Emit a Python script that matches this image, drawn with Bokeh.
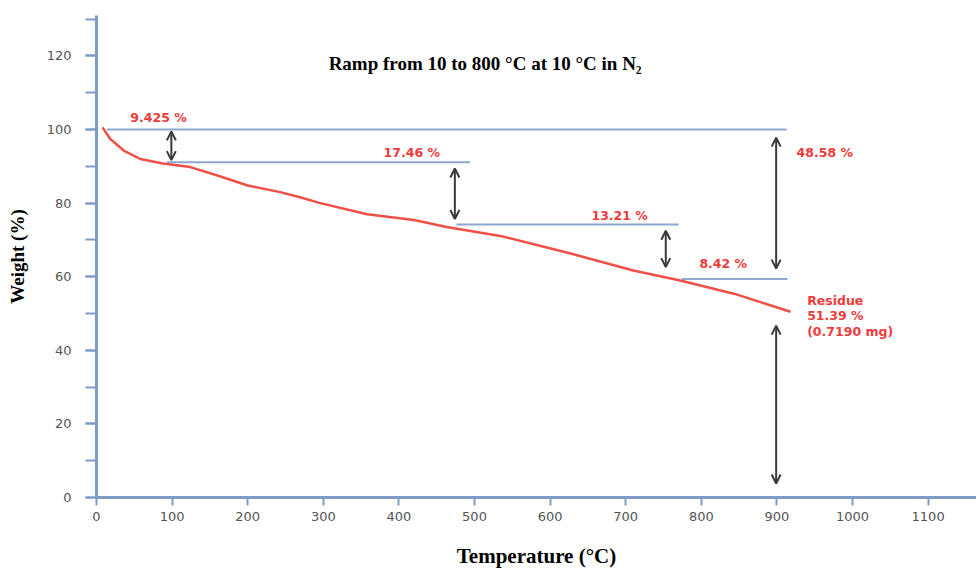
from bokeh.plotting import figure
from bokeh.models import (ColumnDataSource, Arrow, OpenHead, Label, Range1d,
                          SingleIntervalTicker)
from bokeh.embed import file_html
from bokeh.resources import INLINE
from bokeh.core.properties import value

# ---- data ----
temperature = [8, 18, 36, 58, 88, 124, 160, 200, 243, 269, 296, 358, 420, 463,
               534, 622, 710, 772, 843, 918]
weight = [100.6, 97.5, 94.3, 92.0, 90.8, 89.8, 87.5, 84.8, 83.0, 81.6, 80.0,
          77.0, 75.4, 73.5, 71.1, 66.6, 61.7, 59.0, 55.4, 50.5]

step_levels = [100, 91.1, 74.2, 59.4]
step_starts = [14, 93, 476, 774]
step_ends = [913, 494, 770, 914]

arrow_x = [99, 474, 753, 899, 899]
arrow_from = [99.5, 89.4, 72.5, 97.8, 46.7]
arrow_to = [91.7, 75.7, 62.6, 62.2, 3.8]

label_texts = ["9.425 %", "17.46 %", "13.21 %", "8.42 %", "48.58 %",
               "Residue", "51.39 %", "(0.7190 mg)"]
label_x = [82, 417, 692, 829, 926, 940, 940, 940]
label_y = [103.4, 93.8, 76.6, 63.5, 93.7, 53.5, 49.5, 45.2]
label_align = ["center", "center", "center", "center", "left", "left", "left", "left"]

title_text = "Ramp from 10 to 800 \u00b0C at 10 \u00b0C in N\u2082"
x_title = "Temperature (\u00b0C)"
y_title = "Weight (%)"

AXIS_BLUE = "#7e9bc8"
LINE_BLUE = "#8ea8d0"
RED = "#ee3b3b"

p = figure(width=976, height=570, x_range=Range1d(0, 1164), y_range=Range1d(0, 131),
           output_backend="svg", toolbar_location=None,
           min_border_left=96, min_border_top=15, min_border_right=0, min_border_bottom=73)
p.grid.visible = False
p.outline_line_color = None
p.background_fill_color = "white"
p.border_fill_color = "white"

# axes
p.xaxis.ticker = SingleIntervalTicker(interval=100, num_minor_ticks=0)
p.yaxis.ticker = SingleIntervalTicker(interval=20, num_minor_ticks=2)
for ax in (p.xaxis, p.yaxis):
    ax.axis_line_color = AXIS_BLUE
    ax.axis_line_width = 3
    ax.major_tick_line_color = AXIS_BLUE
    ax.major_tick_line_width = 2
    ax.minor_tick_line_color = AXIS_BLUE
    ax.minor_tick_line_width = 2
    ax.major_tick_in = 0
    ax.minor_tick_in = 0
    ax.major_label_text_font = "DejaVu Sans"
    ax.major_label_text_font_size = "13px"
    ax.major_label_text_color = "#555555"
    ax.axis_label_text_font = "Liberation Serif"
    ax.axis_label_text_font_style = "bold"
    ax.axis_label_text_color = "black"

p.yaxis.major_tick_out = 11
p.yaxis.minor_tick_out = 11
p.yaxis.major_label_standoff = 14
p.yaxis.axis_label = y_title
p.yaxis.axis_label_text_font_size = "19px"
p.yaxis.axis_label_standoff = 16

p.xaxis.major_tick_out = 8
p.xaxis.minor_tick_out = 0
p.xaxis.major_label_standoff = 6
p.xaxis.axis_label = x_title
p.xaxis.axis_label_text_font_size = "21px"
p.xaxis.axis_label_standoff = 20

# step reference lines
steps = ColumnDataSource(dict(y=step_levels, x0=step_starts, x1=step_ends))
p.segment(x0="x0", y0="y", x1="x1", y1="y", source=steps, line_color=LINE_BLUE, line_width=2)

# TGA curve
p.line(temperature, weight, line_color="#ee5048", line_width=2.5)

# double-headed arrows
arrows = ColumnDataSource(dict(x=arrow_x, y0=arrow_from, y1=arrow_to))
p.add_layout(Arrow(x_start="x", y_start="y0", x_end="x", y_end="y1", source=arrows,
                   line_color="#3a3a3a", line_width=2,
                   start=OpenHead(size=9, line_color="#3a3a3a", line_width=2),
                   end=OpenHead(size=9, line_color="#3a3a3a", line_width=2)))

# red annotations
labels = ColumnDataSource(dict(x=label_x, y=label_y, t=label_texts, a=label_align))
p.text(x="x", y="y", text="t", source=labels, text_align="a", text_baseline="middle",
       text_color=RED, text_font=value("DejaVu Sans"), text_font_size="12.5px",
       text_font_style="bold")

# title inside the plot
p.add_layout(Label(x=514, y=118, text=title_text, text_align="center",
                   text_baseline="middle", text_font="Liberation Serif",
                   text_font_style="bold", text_font_size="19px", text_color="black"))

open("out.html", "w").write(file_html(p, INLINE))
